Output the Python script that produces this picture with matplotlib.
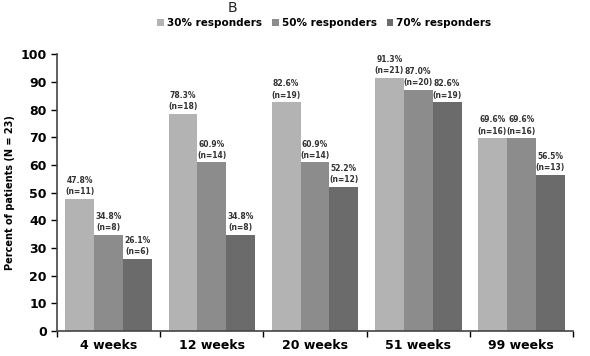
import matplotlib.pyplot as plt
import numpy as np

# data
weeks = ["4 weeks", "12 weeks", "20 weeks", "51 weeks", "99 weeks"]
series_names = ["30% responders", "50% responders", "70% responders"]
pct_30 = [47.8, 78.3, 82.6, 91.3, 69.6]
pct_50 = [34.8, 60.9, 60.9, 87.0, 69.6]
pct_70 = [26.1, 34.8, 52.2, 82.6, 56.5]
n_30 = [11, 18, 19, 21, 16]
n_50 = [8, 14, 14, 20, 16]
n_70 = [6, 8, 12, 19, 13]
colors = ["#b3b3b3", "#8c8c8c", "#6b6b6b"]

fig = plt.figure(figsize=(5.9, 3.56), dpi=100)
ax = fig.add_axes([0.097, 0.070, 0.874, 0.778])

x = np.arange(len(weeks))
w = 0.28
for i, (vals, ns) in enumerate([(pct_30, n_30), (pct_50, n_50), (pct_70, n_70)]):
    pos = x + (i - 1) * w
    ax.bar(pos, vals, width=w, color=colors[i], label=series_names[i])
    for px, v, n in zip(pos, vals, ns):
        ax.text(px, v + 1, f"{v:.1f}%\n(n={n})", ha="center", va="bottom",
                fontsize=5.5, fontweight="bold", color="#333333", linespacing=1.3)

ax.set_xlim(-0.5, len(weeks) - 0.5)
ax.set_ylim(0, 100)
ax.set_yticks(range(0, 101, 10))
ax.set_xticks(x)
ax.set_xticklabels(weeks, fontsize=9, fontweight="bold")
ax.set_xticks(np.arange(-0.5, len(weeks), 1), minor=True)
ax.tick_params(axis="x", which="major", length=0, pad=6)
ax.tick_params(axis="x", which="minor", length=4, width=1, direction="out")
ax.tick_params(axis="y", length=4, width=1, labelsize=9, direction="out")
for lab in ax.get_yticklabels():
    lab.set_fontweight("bold")

for side in ["top", "right"]:
    ax.spines[side].set_visible(False)
for side in ["left", "bottom"]:
    ax.spines[side].set_color("#444444")
    ax.spines[side].set_linewidth(1.2)

ax.set_ylabel("Percent of patients (N = 23)", fontsize=7, fontweight="bold")

fig.legend(loc="upper center", bbox_to_anchor=(0.55, 0.975), ncol=3, frameon=False,
           handlelength=0.6, handleheight=0.6, handletextpad=0.3,
           columnspacing=1.0, prop={"weight": "bold", "size": 7.5})

fig.text(0.385, 0.998, "B", fontsize=10, ha="left", va="top", color="#222222")

plt.savefig("out.png", dpi=100)
plt.close()
